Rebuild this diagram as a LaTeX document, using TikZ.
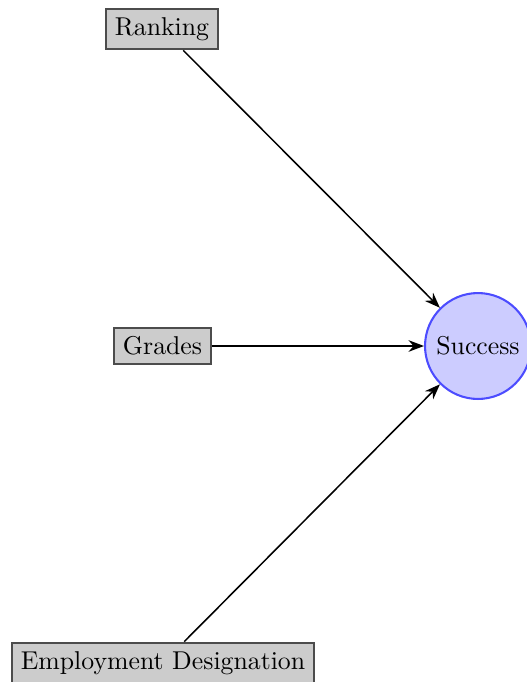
\documentclass[tikz,border=0pt]{standalone}
\usetikzlibrary{arrows.meta}
\begin{document}
\begin{tikzpicture}[x=0.388pt,y=-0.388pt,
  factor/.style={draw=black!70,fill=black!20,thick,inner sep=3.4pt},
  outcome/.style={circle,draw=blue!70,fill=blue!20,thick,minimum size=41.1pt,inner sep=0pt},
  link/.style={-{Stealth[length=6pt,width=4.5pt]},semithick}]
  \useasboundingbox (0,0) rectangle (527,682);
  \node[factor] (rank) at (162,29) {Ranking};
  \node[factor] (grades) at (162.5,346) {Grades};
  \node[factor] (emp) at (163,663) {Employment Designation};
  \node[outcome] (succ) at (478,346) {Success};
  \draw[link] (rank) -- (succ);
  \draw[link] (grades) -- (succ);
  \draw[link] (emp) -- (succ);
\end{tikzpicture}
\end{document}
